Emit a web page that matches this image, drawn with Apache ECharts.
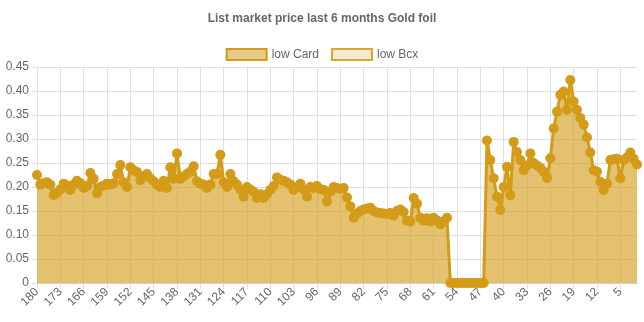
<!DOCTYPE html>
<html>
<head>
<meta charset="utf-8">
<script src="https://cdn.jsdelivr.net/npm/echarts@6/dist/echarts.min.js"></script>
<style>html,body{margin:0;padding:0;background:#fff}#c{width:644px;height:322px}</style>
</head>
<body>
<div id="c"></div>
<script>
var chartTitle = 'List market price last 6 months Gold foil';
var seriesNames = ['low Card', 'low Bcx'];
var days = [];
for (var d = 180; d >= 0; d--) days.push(String(d));
var lowCard = [
0.225,0.205,0.208,0.21,0.205,0.183,0.188,0.195,0.207,0.203,
0.194,0.205,0.213,0.208,0.198,0.202,0.229,0.217,0.187,0.2,
0.203,0.207,0.205,0.208,0.227,0.246,0.21,0.2,0.241,0.235,
0.231,0.214,0.222,0.227,0.218,0.212,0.205,0.2,0.213,0.198,
0.241,0.217,0.27,0.217,0.222,0.227,0.232,0.243,0.212,0.207,
0.205,0.198,0.205,0.227,0.227,0.267,0.21,0.2,0.227,0.212,
0.205,0.195,0.18,0.2,0.195,0.19,0.177,0.185,0.177,0.185,
0.194,0.202,0.22,0.215,0.213,0.21,0.205,0.194,0.2,0.207,
0.195,0.18,0.2,0.198,0.202,0.196,0.194,0.17,0.19,0.2,
0.198,0.196,0.198,0.178,0.16,0.136,0.145,0.15,0.153,0.155,
0.157,0.15,0.147,0.146,0.145,0.144,0.146,0.14,0.15,0.153,
0.148,0.13,0.128,0.177,0.165,0.136,0.13,0.135,0.128,0.136,
0.13,0.122,0.128,0.136,0,0,0,0,0,0,
0,0,0,0,0,0.297,0.256,0.218,0.18,0.152,
0.2,0.242,0.183,0.294,0.273,0.256,0.235,0.245,0.27,0.25,
0.245,0.24,0.232,0.219,0.26,0.322,0.357,0.392,0.399,0.361,
0.423,0.378,0.361,0.344,0.33,0.303,0.272,0.235,0.232,0.211,
0.194,0.207,0.256,0.258,0.259,0.218,0.256,0.262,0.272,0.259,
0.247
];
var lowBcx = [];

var chart = echarts.init(document.getElementById('c'));
chart.setOption({
  animation: false,
  textStyle: {fontFamily: 'Liberation Sans, Arial, sans-serif'},
  title: {
    text: chartTitle, left: 'center', top: 8,
    textStyle: {fontSize: 12, fontWeight: 'bold', color: '#666', fontFamily: 'Liberation Sans, Arial, sans-serif'}
  },
  legend: {
    top: 43, left: 'center', itemWidth: 40, itemHeight: 11, itemGap: 12, icon: 'rect',
    textStyle: {fontSize: 12, color: '#666'},
    data: [
      {name: seriesNames[0], itemStyle: {color: '#e5c988', borderColor: '#d39b17', borderWidth: 2}},
      {name: seriesNames[1], itemStyle: {color: '#f6ebd2', borderColor: '#d9a632', borderWidth: 2}}
    ]
  },
  grid: {left: 37, right: 7, top: 67, bottom: 39, containLabel: false},
  xAxis: {
    type: 'category', data: days, boundaryGap: false,
    axisLine: {lineStyle: {color: '#d0d0d0'}},
    axisTick: {show: true, interval: 6, length: 6, lineStyle: {color: '#e0e0e0'}},
    axisLabel: {interval: 6, rotate: 45, fontSize: 12, color: '#666', margin: 7},
    splitLine: {show: true, interval: 6, lineStyle: {color: '#e0e0e0'}}
  },
  yAxis: {
    type: 'value', min: 0, max: 0.45, interval: 0.05,
    axisLine: {show: true, lineStyle: {color: '#e0e0e0'}},
    axisTick: {show: true, length: 5, lineStyle: {color: '#e0e0e0'}},
    axisLabel: {fontSize: 12, color: '#666', margin: 8, formatter: function (v) { return v === 0 ? '0' : v.toFixed(2); }},
    splitLine: {lineStyle: {color: '#e0e0e0'}}
  },
  series: [
    {
      name: seriesNames[0], type: 'line', data: lowCard,
      symbol: 'circle', symbolSize: 10, showAllSymbol: true,
      lineStyle: {color: '#d39b17', width: 3},
      itemStyle: {color: '#d39b17'},
      areaStyle: {color: '#d39b17', opacity: 0.62}
    },
    {
      name: seriesNames[1], type: 'line', data: lowBcx,
      symbol: 'circle', symbolSize: 10,
      lineStyle: {color: '#d9a632', width: 3},
      itemStyle: {color: '#d9a632'},
      areaStyle: {color: '#e6c88c', opacity: 0.4}
    }
  ]
});
</script>
</body>
</html>
